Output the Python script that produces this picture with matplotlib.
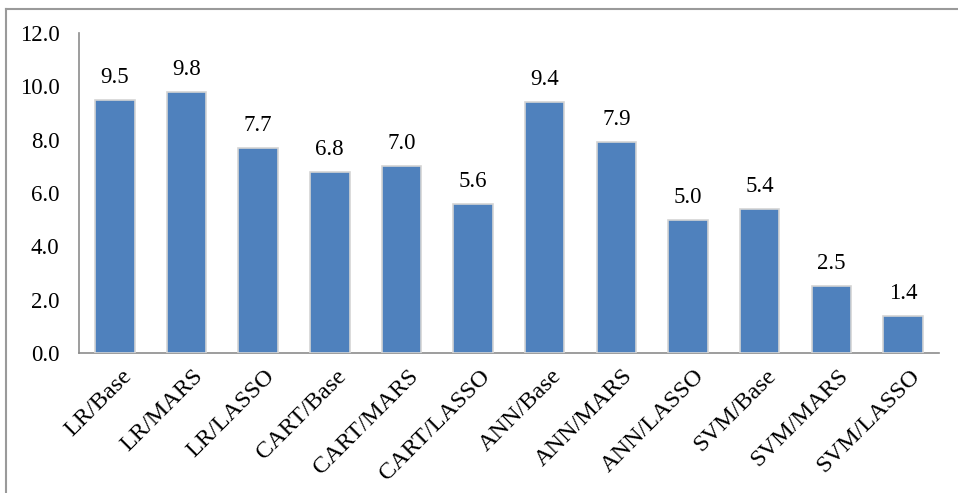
import numpy as np
import matplotlib.pyplot as plt
from matplotlib.lines import Line2D
from matplotlib.transforms import ScaledTranslation

# model / feature-selection combinations and their scores
labels = ["LR/Base", "LR/MARS", "LR/LASSO", "CART/Base", "CART/MARS", "CART/LASSO",
          "ANN/Base", "ANN/MARS", "ANN/LASSO", "SVM/Base", "SVM/MARS", "SVM/LASSO"]
values = [9.5, 9.8, 7.7, 6.8, 7.0, 5.6, 9.4, 7.9, 5.0, 5.4, 2.5, 1.4]
yticks = [0.0, 2.0, 4.0, 6.0, 8.0, 10.0, 12.0]

plt.rcParams['font.family'] = ['Liberation Serif', 'DejaVu Serif']
fs = 16.5

fig = plt.figure(figsize=(9.58, 4.93), dpi=100)
ax = fig.add_axes([0.0825, 0.284, 0.8975, 0.649])

x = np.arange(len(labels))
bars = ax.bar(x, values, width=0.55, color='#4F81BD',
              edgecolor='#d4d4d4', linewidth=1.2, zorder=3)

for xi, v in zip(x, values):
    ax.text(xi, v + 0.45, f"{v:.1f}", ha='center', va='bottom', fontsize=fs)

ax.set_xlim(-0.5, len(labels) - 0.5)
ax.set_ylim(0, 12)
ax.set_yticks(yticks)
ax.set_yticklabels([f"{t:.1f}" for t in yticks], fontsize=fs)
ax.set_xticks(x)
ax.set_xticklabels(labels, rotation=45, ha='right', va='top',
                   rotation_mode='anchor', fontsize=17.5)
ax.tick_params(axis='both', length=0)
ax.tick_params(axis='y', pad=14)
ax.tick_params(axis='x', pad=9)

# nudge the slanted category labels a little to the right
shift = ScaledTranslation(6 / 100, 0, fig.dpi_scale_trans)
for lbl in ax.get_xticklabels():
    lbl.set_transform(lbl.get_transform() + shift)

for side in ['top', 'right']:
    ax.spines[side].set_visible(False)
for side in ['left', 'bottom']:
    ax.spines[side].set_color('#8c8c8c')
    ax.spines[side].set_linewidth(1.2)

# outer chart frame (only top and left edges fall inside the image)
fx0, fy0 = 5.5 / 958, 1 - 8.5 / 493
fig.add_artist(Line2D([fx0, 1.0], [fy0, fy0], transform=fig.transFigure,
                      color='#9a9a9a', linewidth=1.5))
fig.add_artist(Line2D([fx0, fx0], [0.0, fy0], transform=fig.transFigure,
                      color='#9a9a9a', linewidth=1.5))

fig.savefig("out.png", dpi=100)
